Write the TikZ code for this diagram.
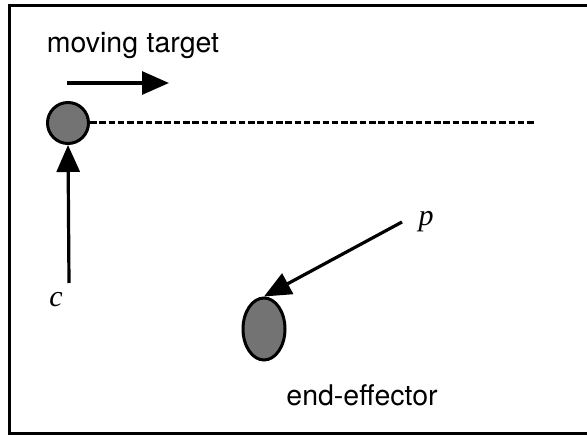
\documentclass[tikz,border=0pt]{standalone}
\usepackage{fontspec}
\setmainfont{TeX Gyre Heros}
\newfontfamily\varfont{Liberation Serif}
\usetikzlibrary{arrows.meta,shapes.geometric}

\begin{document}
\begin{tikzpicture}[x=1pt,y=1pt,yscale=-1,xscale=1,
  arr/.style={-{Triangle[length=27pt,width=23pt]}, line width=3.2pt},
  blob/.style={draw, line width=3pt, fill=black!55, inner sep=0pt},
  lbl/.style={inner sep=0.75pt, font=\fontsize{28.5}{32}\selectfont},
  var/.style={inner sep=0.75pt, font=\fontsize{30}{34}\selectfont\varfont\itshape}]
\useasboundingbox (0,0) rectangle (587,436);
% frame
\draw[line width=3pt] (587,6) -- (9,6) -- (9,433) -- (587,433);
% moving target
\node[blob, circle, minimum size=41pt] (tgt) at (68,123) {};
\draw[line width=3pt, dash pattern=on 6.5pt off 2.8pt] (tgt.east) -- (536,123);
\node[lbl, anchor=base] (mtlbl) at (133,53) {moving\hspace{0.3em}target};
\coordinate (mt0) at (67,83);
\coordinate (mt1) at (169,83);
\draw[arr] (mt0) -- (mt1);
% c
\node[var] (c) at (56,300) {c};
\coordinate (c0) at (69,283);
\draw[arr] (c0) -- (tgt.south);
% end-effector
\node[blob, ellipse, minimum width=42pt, minimum height=62pt] (eff) at (264,329) {};
\node[lbl, anchor=base] (efflbl) at (362,405) {end-effector};
% p
\node[var] (p) at (426,222) {p};
\coordinate (p0) at (402,222);
\draw[arr] (p0) -- (eff.north);
\end{tikzpicture}
\end{document}
